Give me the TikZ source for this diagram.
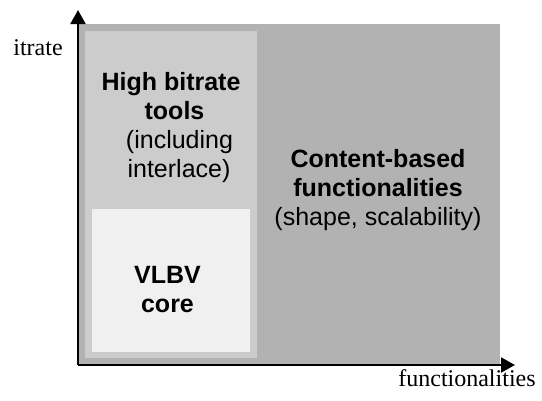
\documentclass[tikz,border=0pt]{standalone}
\usepackage{fontspec}
\setmainfont{Liberation Serif}
\setsansfont{Liberation Sans}
\usepackage{tikz}
\usetikzlibrary{arrows.meta,positioning}
\definecolor{outergray}{gray}{0.70}
\definecolor{midgray}{gray}{0.80}
\definecolor{coregray}{gray}{0.94}
\tikzset{region/.style={
    fill=#1, draw=none
  },
  region/.default=outergray,
  blocktext/.style={
    font=\sffamily\fontsize{25}{29}\selectfont,
    align=center, inner sep=0pt, anchor=base
  },
  axislabel/.style={
    font=\rmfamily\fontsize{24}{29}\selectfont,
    inner sep=0pt, anchor=base
  },
  axisline/.style={
    line width=2pt, -{Triangle[length=14pt,width=15pt]}
  }
}

\begin{document}
\begin{tikzpicture}[x=1pt,y=-1pt]
    \useasboundingbox (0,0) rectangle (542,400);
    % regions
    \path[region=outergray] (79,24) rectangle (500,365);
    \path[region=midgray] (85,31) rectangle (257,358);
    \path[region=coregray] (92,209) rectangle (250,352);
    % axes
    \coordinate (origin) at (78,365);
    \coordinate (ytip) at (78,10);
    \coordinate (xtip) at (515,365);
    \draw[axisline] (origin) -- (ytip);
    \draw[axisline] (origin) -- (xtip);
    \node[axislabel] (bitrate) at (38,55) {itrate};
    \node[axislabel] (functionalities) at (467,386) {functionalities};
    % texts (base = last line)
    \node[blocktext] (hightools) at (171,177) {\textbf{High bitrate}\\
        \hspace*{7pt}\textbf{tools}\\
        \hspace*{17pt}(including\\
        \hspace*{16pt}interlace)};
    \node[blocktext] (content) at (378,225) {\textbf{Content-based}\\
        \textbf{functionalities}\\
        (shape, scalability)};
    \node[blocktext] (vlbv) at (167.5,312) {\textbf{VLBV}\\
        \textbf{core}};
\end{tikzpicture}
\end{document}
